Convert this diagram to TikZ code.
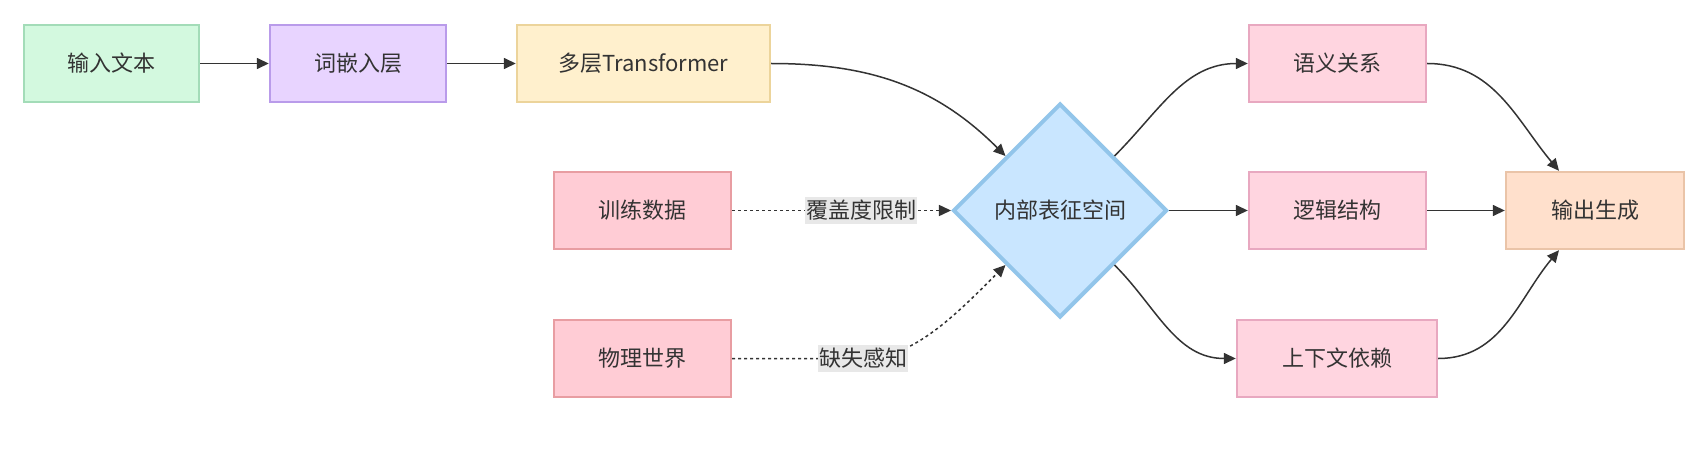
\documentclass[tikz,border=0pt]{standalone}
\usepackage{fontspec}
\setmainfont{Noto Sans CJK SC}
\usetikzlibrary{arrows.meta, shapes.geometric}

\definecolor{textgray}{HTML}{333333}
\definecolor{linegray}{HTML}{333333}
\definecolor{lblgray}{HTML}{E8E8E8}
\definecolor{greenfill}{HTML}{D3F9DF}
\definecolor{greenline}{HTML}{A3DCB8}
\definecolor{purplefill}{HTML}{E8D4FF}
\definecolor{purpleline}{HTML}{B99BEA}
\definecolor{yellowfill}{HTML}{FFF0CD}
\definecolor{yellowline}{HTML}{ECD49B}
\definecolor{redfill}{HTML}{FFCCD5}
\definecolor{redline}{HTML}{E89DA2}
\definecolor{pinkfill}{HTML}{FFD5E0}
\definecolor{pinkline}{HTML}{E8A8C0}
\definecolor{orangefill}{HTML}{FFE0CC}
\definecolor{orangeline}{HTML}{EAC4A8}
\definecolor{bluefill}{HTML}{C9E6FF}
\definecolor{blueline}{HTML}{92C5EA}

\begin{document}
\begin{tikzpicture}[x=1pt, y=1pt, >={Triangle[length=12pt,width=11pt]},
    box/.style={draw, line width=2.4pt, minimum height=77pt, inner sep=0pt,
        text=textgray, font=\fontsize{22}{26}\selectfont},
    decision/.style={diamond, aspect=1, draw=blueline, fill=bluefill, line width=4pt,
        minimum width=214pt, minimum height=214pt, inner sep=0pt,
        text=textgray, font=\fontsize{22}{26}\selectfont},
    link/.style={->, line width=1.5pt, draw=linegray},
    dotlink/.style={link, dash pattern=on 3pt off 3pt},
    lbl/.style={fill=lblgray, text=textgray, font=\fontsize{22}{26}\selectfont,
        inner xsep=1pt, inner ysep=3pt}]
    \useasboundingbox (0,0) rectangle (1698,-476);

    \node[box, draw=greenline, fill=greenfill, minimum width=175pt] (input) at (111.5,-63.5) {输入文本};
    \node[box, draw=purpleline, fill=purplefill, minimum width=176pt] (embed) at (358,-63.5) {词嵌入层};
    \node[box, draw=yellowline, fill=yellowfill, minimum width=253pt] (trans) at (643.5,-63.5) {多层Transformer};
    \node[box, draw=redline, fill=redfill, minimum width=177pt] (train) at (642.5,-210.5) {训练数据};
    \node[box, draw=redline, fill=redfill, minimum width=177pt] (phys) at (642.5,-358.5) {物理世界};
    \node[decision] (space) at (1060,-210.5) {内部表征空间};
    \node[box, draw=pinkline, fill=pinkfill, minimum width=177pt] (sem) at (1337.5,-63.5) {语义关系};
    \node[box, draw=pinkline, fill=pinkfill, minimum width=177pt] (logic) at (1337.5,-210.5) {逻辑结构};
    \node[box, draw=pinkline, fill=pinkfill, minimum width=200pt] (ctx) at (1337,-358.5) {上下文依赖};
    \node[box, draw=orangeline, fill=orangefill, minimum width=178pt] (gen) at (1595,-210.5) {输出生成};

    \draw[link] (input) -- (embed);
    \draw[link] (embed) -- (trans);
    \draw[link] (trans.east) to[out=0, in=135] (space.north west);
    \draw[dotlink] (train) -- node[lbl, pos=0.59] {覆盖度限制} (space);
    \draw[dotlink] (phys.east) -- ++(131,0) node[lbl] {缺失感知}
        .. controls +(50,0) and +(-50,-50) .. (space.south west);
    \draw[link] (space.north east) to[out=45, in=180] (sem.west);
    \draw[link] (space.east) -- (logic.west);
    \draw[link] (space.south east) to[out=-45, in=180] (ctx.west);
    \draw[link] (sem.east) to[out=0, in=130] ([xshift=-36pt]gen.north);
    \draw[link] (logic) -- (gen);
    \draw[link] (ctx.east) to[out=0, in=-130] ([xshift=-36pt]gen.south);
\end{tikzpicture}
\end{document}
